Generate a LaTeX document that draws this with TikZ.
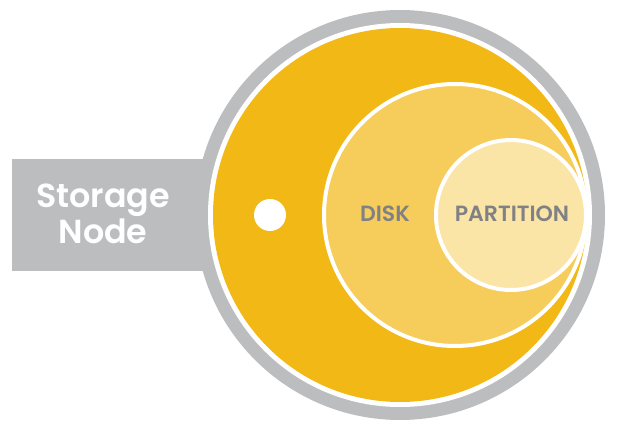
\documentclass[tikz,border=0pt]{standalone}
\usepackage{fontspec}
\setmainfont{Poppins}[BoldFont={Poppins SemiBold}]
\definecolor{ringgray}{HTML}{BCBDBF}
\definecolor{nodeyellow}{HTML}{F2B916}
\definecolor{diskyellow}{HTML}{F6CD5B}
\definecolor{partyellow}{HTML}{FAE4A6}
\definecolor{labelgray}{HTML}{808184}
\begin{document}
\begin{tikzpicture}[x=0.75pt, y=-0.75pt]
            \useasboundingbox (0, 0) rectangle (618, 432);
            %shapes
            \fill[ringgray] (12, 159) rectangle (300, 271);
            \fill[ringgray] (400, 215) circle (205);
            \fill[white] (400, 215) circle (192);
            \node[circle, fill=nodeyellow, minimum size=374*0.75pt, inner sep=0pt] (storage) at (400, 215) {};
            \node[circle, fill=white, minimum size=32*0.75pt, inner sep=0pt] (dot) at (270, 215) {};
            \node[circle, draw=white, line width=3pt, fill=diskyellow, minimum size=262*0.75pt, inner sep=0pt] (disk) at (455, 215) {};
            \node[circle, draw=white, line width=3pt, fill=partyellow, minimum size=150*0.75pt, inner sep=0pt] (part) at (511, 215) {};
            
            %labels
            \node[text=white, font=\fontsize{25}{27.5}\selectfont\bfseries, align=center] (label) at (103, 214) {Storage\\Node};
            \node[text=labelgray, font=\fontsize{16.5}{18}\selectfont\bfseries] (disklabel) at (385, 214) {DISK};
            \node[text=labelgray, font=\fontsize{16.5}{18}\selectfont\bfseries] (partlabel) at (512, 214) {PARTITION};
        \end{tikzpicture}
\end{document}
